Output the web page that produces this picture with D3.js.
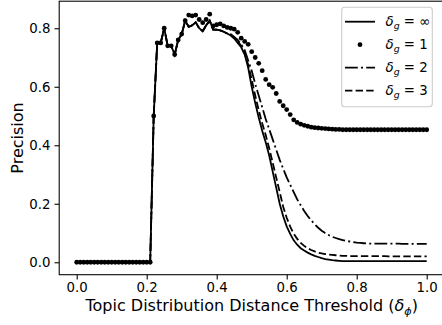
<!DOCTYPE html>
<html>
<head>
<meta charset="utf-8">
<script src="https://cdn.jsdelivr.net/npm/d3@7"></script>
<style>
body { margin: 0; background: #fff; }
svg { display: block; font-family: "DejaVu Sans", sans-serif; }
</style>
</head>
<body>
<svg width="442" height="325"></svg>
<script>
// precision vs topic distribution distance threshold, one curve per delta_g

// x values of the sweep
const thresholds = [0, 0.01, 0.02, 0.03, 0.04, 0.05, 0.06, 0.07, 0.08, 0.09,
  0.1, 0.11, 0.12, 0.13, 0.14, 0.15, 0.16, 0.17, 0.18, 0.19,
  0.2, 0.21, 0.22, 0.23, 0.24, 0.25, 0.26, 0.27, 0.28, 0.29,
  0.3, 0.31, 0.32, 0.33, 0.34, 0.35, 0.36, 0.37, 0.38, 0.39,
  0.4, 0.41, 0.42, 0.43, 0.44, 0.45, 0.46, 0.47, 0.48, 0.49,
  0.5, 0.51, 0.52, 0.53, 0.54, 0.55, 0.56, 0.57, 0.58, 0.59,
  0.6, 0.61, 0.62, 0.63, 0.64, 0.65, 0.66, 0.67, 0.68, 0.69,
  0.7, 0.71, 0.72, 0.73, 0.74, 0.75, 0.76, 0.77, 0.78, 0.79,
  0.8, 0.81, 0.82, 0.83, 0.84, 0.85, 0.86, 0.87, 0.88, 0.89,
  0.9, 0.91, 0.92, 0.93, 0.94, 0.95, 0.96, 0.97, 0.98, 0.99, 1.0];

// 0.00 - 0.30, the same for every delta_g
const rise = [0, 0, 0, 0, 0, 0, 0, 0, 0, 0, 0, 0, 0, 0, 0, 0, 0, 0, 0, 0, 0, 0,
  0.50, 0.75, 0.75, 0.80, 0.74, 0.74, 0.71, 0.76, 0.78];
// 0.31 - 0.43
const plateau = [0.826, 0.805, 0.81, 0.82, 0.80, 0.79, 0.81, 0.826, 0.795, 0.795, 0.793, 0.788, 0.782];
const plateauOne = [0.826, 0.845, 0.842, 0.845, 0.83, 0.819, 0.83, 0.848, 0.808, 0.812, 0.815, 0.808, 0.803];
// 0.44 - 1.00
const tailInf = [0.775, 0.765, 0.75, 0.735, 0.71, 0.665, 0.60, 0.545, 0.495, 0.45, 0.41, 0.365,
  0.31, 0.255, 0.20, 0.157, 0.123, 0.097, 0.075, 0.06, 0.048, 0.04, 0.033, 0.027, 0.022,
  0.018, 0.014, 0.011, 0.009, 0.007, 0.006, 0.005,
  0.004, 0.004, 0.004, 0.004, 0.004, 0.004, 0.004, 0.004, 0.004, 0.004, 0.004, 0.004, 0.004,
  0.004, 0.004, 0.004, 0.004, 0.004, 0.004, 0.004, 0.004, 0.004, 0.004, 0.004, 0.004];
const tailOne = [0.80, 0.797, 0.786, 0.766, 0.755, 0.745, 0.72, 0.70, 0.68, 0.655, 0.625, 0.607,
  0.598, 0.577, 0.55, 0.535, 0.522, 0.505, 0.487, 0.478, 0.472, 0.468, 0.465, 0.462, 0.46,
  0.459, 0.458, 0.457, 0.456, 0.455, 0.454, 0.454,
  0.453, 0.453, 0.453, 0.453, 0.453, 0.453, 0.453, 0.453, 0.453, 0.453, 0.453, 0.453, 0.453,
  0.453, 0.453, 0.453, 0.453, 0.453, 0.453, 0.453, 0.453, 0.453, 0.453, 0.453, 0.453];
const tailTwo = [0.78, 0.77, 0.76, 0.745, 0.725, 0.69, 0.655, 0.61, 0.57, 0.53, 0.49, 0.455,
  0.42, 0.385, 0.35, 0.32, 0.29, 0.265, 0.24, 0.215, 0.195, 0.175, 0.158, 0.143, 0.13,
  0.118, 0.108, 0.10, 0.093, 0.087, 0.083, 0.079, 0.076, 0.073, 0.071, 0.069, 0.067, 0.066, 0.065,
  0.064, 0.064, 0.064, 0.064, 0.064, 0.064, 0.064, 0.064, 0.064, 0.064,
  0.063, 0.063, 0.063, 0.063, 0.063, 0.063, 0.063, 0.063];
const tailThree = [0.778, 0.768, 0.755, 0.74, 0.715, 0.675, 0.625, 0.57, 0.52, 0.475, 0.435, 0.39,
  0.34, 0.29, 0.24, 0.19, 0.152, 0.122, 0.098, 0.08, 0.066, 0.056, 0.048, 0.042, 0.037,
  0.033, 0.03, 0.028, 0.026, 0.025, 0.024, 0.023, 0.022, 0.022, 0.021,
  0.021, 0.021, 0.021, 0.021, 0.021, 0.021, 0.021, 0.021, 0.021, 0.021,
  0.02, 0.02, 0.02, 0.02, 0.02, 0.02, 0.02, 0.02, 0.02, 0.02, 0.02, 0.02];

const precInf = rise.concat(plateau, tailInf);
const precOne = rise.concat(plateauOne, tailOne);
const precTwo = rise.concat(plateau, tailTwo);
const precThree = rise.concat(plateau, tailThree);

const deltaG = ['\u221e', '1', '2', '3'];
const xTicks = [0, 0.2, 0.4, 0.6, 0.8, 1.0];
const yTicks = [0, 0.2, 0.4, 0.6, 0.8];

const svg = d3.select('svg');

const x = d3.scaleLinear().domain([-0.05, 1.05]).range([59.2, 444.2]);
const y = d3.scaleLinear().domain([-0.0425, 0.8925]).range([274.7, 1.2]);

const series = [
  {name: deltaG[0], values: precInf, dash: null, dots: false},
  {name: deltaG[1], values: precOne, dash: null, dots: true},
  {name: deltaG[2], values: precTwo, dash: '12.8,3.2,2,3.2', dots: false},
  {name: deltaG[3], values: precThree, dash: '7.4,3.2', dots: false}
];

const line = d3.line()
  .x((d, i) => x(thresholds[i]))
  .y(d => y(d));

const plot = svg.append('g');

series.forEach(s => {
  if (s.dots) {
    plot.append('g').selectAll('circle')
      .data(s.values)
      .enter()
      .append('circle')
      .attr('cx', (d, i) => x(thresholds[i]))
      .attr('cy', d => y(d))
      .attr('r', 2.4)
      .attr('fill', '#000');
  } else {
    plot.append('path')
      .datum(s.values)
      .attr('d', line)
      .attr('fill', 'none')
      .attr('stroke', '#000')
      .attr('stroke-width', 1.8)
      .attr('stroke-dasharray', s.dash);
  }
});

// frame
svg.append('rect')
  .attr('x', 59.2)
  .attr('y', 1.2)
  .attr('width', 385)
  .attr('height', 273.5)
  .attr('fill', 'none')
  .attr('stroke', '#000')
  .attr('stroke-width', 1.07);

const xAxis = svg.append('g')
  .attr('transform', 'translate(0,274.7)')
  .call(d3.axisBottom(x).tickValues(xTicks).tickFormat(d3.format('.1f')).tickSize(4.7).tickPadding(3.5));
const yAxis = svg.append('g')
  .attr('transform', 'translate(59.2,0)')
  .call(d3.axisLeft(y).tickValues(yTicks).tickFormat(d3.format('.1f')).tickSize(4.7).tickPadding(4));

[xAxis, yAxis].forEach(a => {
  a.select('.domain').remove();
  a.selectAll('line').attr('stroke', '#000').attr('stroke-width', 1.07);
  a.selectAll('text')
    .attr('fill', '#000')
    .attr('font-size', 13.3)
    .attr('font-family', '"DejaVu Sans", sans-serif');
});

// axis titles
const xTitle = svg.append('text')
  .attr('x', 251.7)
  .attr('y', 311)
  .attr('text-anchor', 'middle')
  .attr('font-size', 16)
  .attr('fill', '#000');
xTitle.append('tspan').text('Topic Distribution Distance Threshold (');
xTitle.append('tspan').attr('font-style', 'italic').text('\u03b4');
xTitle.append('tspan').attr('font-style', 'italic').attr('font-size', 11.2).attr('dy', 3.5).text('\u03d5');
xTitle.append('tspan').attr('dy', -3.5).text(')');

svg.append('text')
  .attr('transform', 'translate(22.5,138) rotate(-90)')
  .attr('text-anchor', 'middle')
  .attr('font-size', 16)
  .attr('fill', '#000')
  .text('Precision');

// legend
const legend = svg.append('g');
legend.append('rect')
  .attr('x', 341.7)
  .attr('y', 7.3)
  .attr('width', 90.6)
  .attr('height', 99.4)
  .attr('rx', 3)
  .attr('fill', '#fff')
  .attr('fill-opacity', 0.8)
  .attr('stroke', '#cccccc')
  .attr('stroke-width', 1.07);

series.forEach((s, i) => {
  const ry = 21.7 + i * 23;
  if (s.dots) {
    legend.append('circle').attr('cx', 360).attr('cy', ry).attr('r', 2.4).attr('fill', '#000');
  } else {
    legend.append('line')
      .attr('x1', 345).attr('x2', 375)
      .attr('y1', ry).attr('y2', ry)
      .attr('stroke', '#000')
      .attr('stroke-width', 1.8)
      .attr('stroke-dasharray', s.dash);
  }
  const t = legend.append('text')
    .attr('x', 385.5)
    .attr('y', ry + 4.5)
    .attr('font-size', 13.3)
    .attr('fill', '#000');
  t.append('tspan').attr('font-style', 'italic').text('\u03b4');
  t.append('tspan').attr('font-style', 'italic').attr('font-size', 9.3).attr('dy', 3).text('g');
  t.append('tspan').attr('dy', -3).text(' = ' + s.name);
});
</script>
</body>
</html>
